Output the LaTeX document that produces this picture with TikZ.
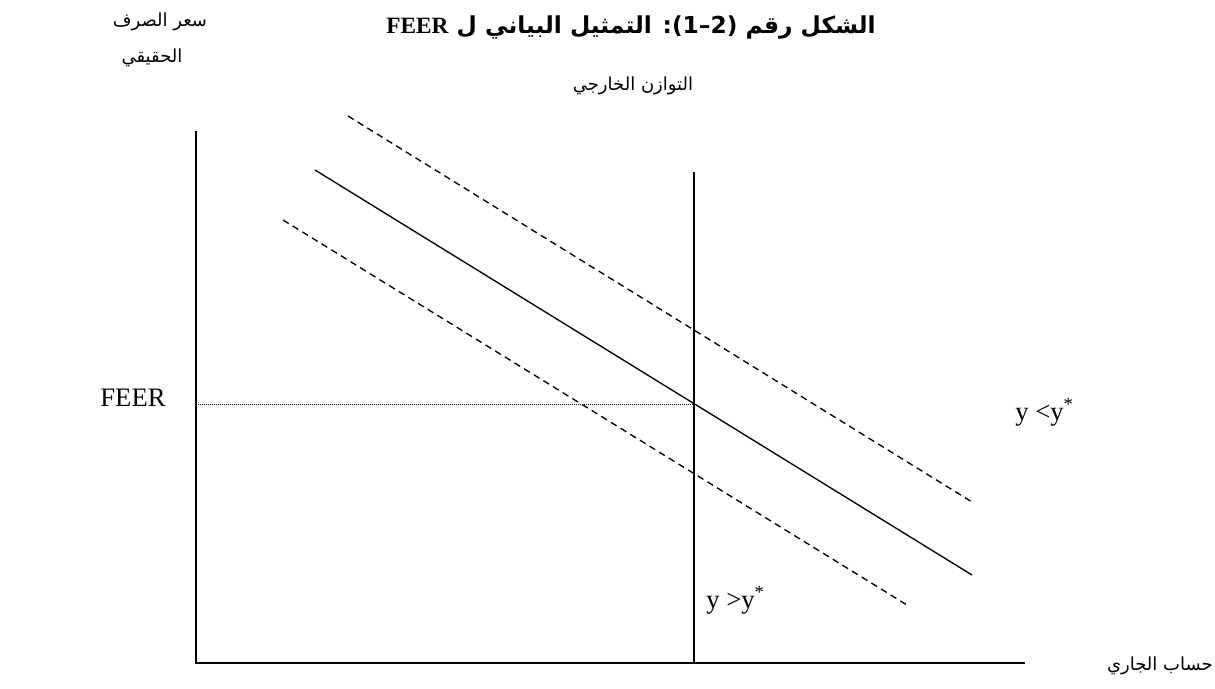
\documentclass[tikz,border=0pt]{standalone}
\usepackage{fontspec}
\setmainfont{Liberation Serif}
\newfontfamily\arabicfont[Script=Arabic]{DejaVu Sans}
\TeXXeTstate=1
\begin{document}
\begin{tikzpicture}[x=0.75pt,y=-0.75pt,
  axis/.style={line width=1.2pt},
  curve/.style={line width=1pt},
  shifted/.style={line width=1pt,dash pattern=on 5pt off 3.5pt},
  guide/.style={line width=0.7pt,dash pattern=on 0.7pt off 0.8pt},
  lab/.style={font=\fontsize{20}{22}\selectfont,inner sep=0pt},
  ar/.style={font=\arabicfont\fontsize{13.5}{15}\selectfont,inner sep=0pt}]
\useasboundingbox (0,0) rectangle (1215,689);
% title
\node[font=\arabicfont\bfseries\fontsize{17.5}{20}\selectfont,inner sep=0pt] (title) at (631,27) {\beginR الشكل رقم (\beginL 2–1\endL): التمثيل البياني ل \beginL{\rmfamily FEER}\endL\endR};
% axes
\coordinate (O) at (196,663);
\coordinate (ytop) at (196,131);
\coordinate (xend) at (1025,663);
\draw[axis] (ytop) -- (O) -- (xend);
\coordinate (vtop) at (694,172);
\coordinate (vbot) at (694,663);
\draw[axis] (vtop) -- (vbot);
% curves
\coordinate (s1) at (315,170);
\coordinate (s2) at (972,575);
\draw[curve] (s1) -- (s2);
\coordinate (u1) at (348,116);
\coordinate (u2) at (972,502);
\draw[shifted] (u1) -- (u2);
\coordinate (l1) at (283,220);
\coordinate (l2) at (907,605);
\draw[shifted] (l1) -- (l2);
\coordinate (E) at (694,404);
\draw[guide] (196,404) -- (E);
% labels
\node[ar] (ylab1) at (160,22) {\beginR سعر الصرف\endR};
\node[ar] (ylab2) at (152,58) {\beginR الحقيقي\endR};
\node[ar] (vlab) at (633,86) {\beginR التوازن الخارجي\endR};
\node[ar,anchor=east] (xlab) at (1213,666) {\beginR حساب الجاري\endR};
\node[lab] (feer) at (133,398) {FEER};
\node[lab,anchor=west] (above) at (1015,412) {y <y\textsuperscript{*}};
\node[lab,anchor=west] (below) at (706,600) {y >y\textsuperscript{*}};
\end{tikzpicture}
\end{document}
